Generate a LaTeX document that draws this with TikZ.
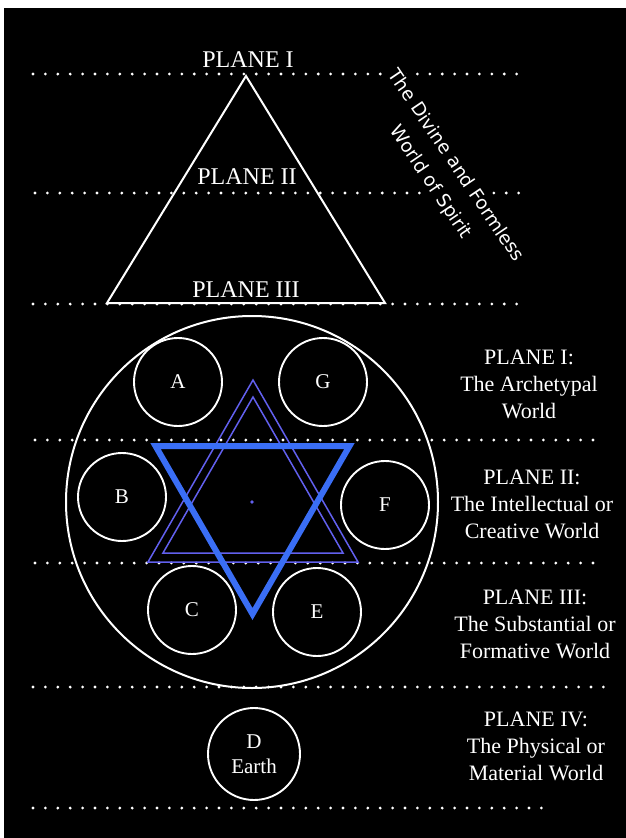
\documentclass[tikz,border=0pt]{standalone}
\usepackage{fontspec}
\setmainfont{Liberation Serif}
\newfontfamily\sansdv{DejaVu Sans}
\usetikzlibrary{positioning}
\definecolor{starAzul}{HTML}{3A6EF5}
\definecolor{starMorado}{HTML}{6260EE}

\begin{document}
\begin{tikzpicture}[x=1pt,y=-1pt,
      dotrow/.style={white, line width=3.1pt, line cap=round, dash pattern=on 0pt off 12.4pt},
      orb/.style={circle, draw=white, line width=1.9pt, text=white, minimum size=#1,
                  inner sep=0pt, font=\fontsize{21}{25}\selectfont},
      plab/.style={text=white, inner sep=0pt, font=\fontsize{24}{28}\selectfont},
      rlab/.style={text=white, align=center, inner sep=0pt, font=\fontsize{22}{27}\selectfont}]
    \useasboundingbox (0,0) rectangle (626,838);
    \fill[white] (0,0) rectangle (626,838);
    \fill[black] (4,8) rectangle (626,838);
    % dotted plane lines
    \foreach \y/\xa/\xb in {74/33/527, 193/35/527, 304/33/520, 440/35/597,
                            563/35/596, 687/33/604, 808/33/545}
      \draw[dotrow] (\xa,\y) -- (\xb,\y);
    % the upper triangle
    \draw[white, line width=2pt] (246,76) -- (107,303) -- (385,303) -- cycle;
    \node[plab] (p1) at (248,60) {PLANE I};
    \node[plab] (p2) at (247,177) {PLANE II};
    \node[plab] (p3) at (246,290) {PLANE III};
    \node[text=white, fill=black, rotate=-56, align=center, inner sep=2pt,
          font=\sansdv\fontsize{18.5}{30}\selectfont] (spirit) at (443,174)
          {The Divine and Formless\\World of Spirit};
    % the lower world
    \node[orb=372pt, line width=2pt] (world) at (252,502) {};
    \foreach \n/\x/\y in {A/178/382, G/323/382, B/122/497, F/385/505, C/192/610, E/317/612}
      \node[orb=88pt] (\n) at (\x,\y) {\n};
    \node[orb=92pt, align=center] (D) at (254,754) {D\\Earth};
    % star
    \draw[starMorado, line width=1.5pt] (253,380) -- (148,562) -- (358,562) -- cycle;
    \draw[starMorado, line width=1.5pt] (253,397) -- (163,553) -- (343,553) -- cycle;
    \draw[starAzul, line width=6pt] (155.5,446) -- (349.5,446) -- (252.5,614) -- cycle;
    \fill[starMorado] (252,502) circle (1.8pt);
    % plane names
    \node[rlab] (r1) at (529,384) {PLANE I:\\The Archetypal\\World};
    \node[rlab] (r2) at (532,504) {PLANE II:\\The Intellectual or\\Creative World};
    \node[rlab] (r3) at (535,624) {PLANE III:\\The Substantial or\\Formative World};
    \node[rlab] (r4) at (536,746) {PLANE IV:\\The Physical or\\Material World};
  \end{tikzpicture}
\end{document}
